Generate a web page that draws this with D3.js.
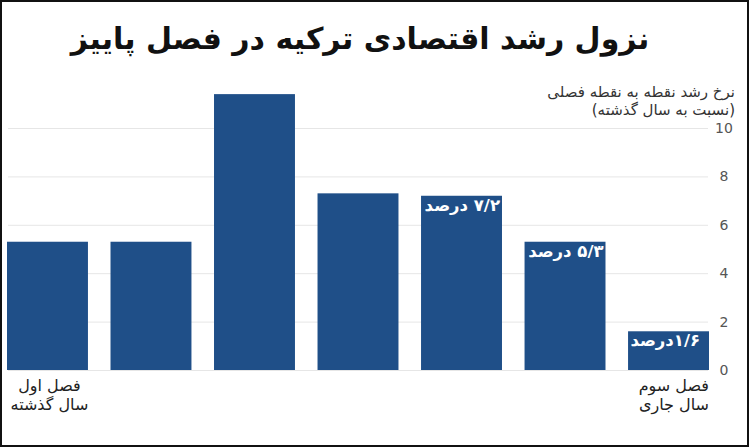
<!DOCTYPE html>
<html><head><meta charset="utf-8">
<script src="https://cdn.jsdelivr.net/npm/d3@7"></script>
<style>
html,body{margin:0;padding:0;background:#fff;}
text{font-family:"DejaVu Sans",sans-serif;}
</style></head>
<body>
<svg id="chart" width="750" height="448"></svg>
<script>
const title = "نزول رشد اقتصادی ترکیه در فصل پاییز";
const axisTitle = ["نرخ رشد نقطه به نقطه فصلی", "(نسبت به سال گذشته)"];
const categories = ["q1", "q2", "q3", "q4", "q5", "q6", "q7"];
const values = [5.3, 5.3, 11.4, 7.3, 7.2, 5.3, 1.6];
const barLabels = ["", "", "", "", "۷/۲ درصد", "۵/۳ درصد", "۱/۶درصد"];
const yTicks = [0, 2, 4, 6, 8, 10];
const firstLabel = ["فصل اول", "سال گذشته"];
const lastLabel = ["فصل سوم", "سال جاری"];

const svg = d3.select("#chart");
const W = 750, H = 448;
const barColor = "#1f4f88";

const x = d3.scaleBand().domain(categories).range([7, 709]).paddingInner(0.218).paddingOuter(0);
const y = d3.scaleLinear().domain([0, 10]).range([370, 128]);

// frame
svg.append("rect").attr("x", 1).attr("y", 1).attr("width", W - 3).attr("height", H - 3)
  .attr("fill", "none").attr("stroke", "#111").attr("stroke-width", 2);

// title
svg.append("text").attr("x", 360).attr("y", 49).attr("text-anchor", "middle")
  .attr("font-size", 30).attr("font-weight", "bold").attr("fill", "#111")
  .attr("direction", "rtl").text(title);

// gridlines
svg.append("g").selectAll("line").data(yTicks).join("line")
  .attr("x1", 8).attr("x2", 708)
  .attr("y1", d => y(d) + 0.5).attr("y2", d => y(d) + 0.5)
  .attr("stroke", "#e6e6e6").attr("stroke-width", 1);

// right axis labels
const yAxis = d3.axisRight(y).tickValues(yTicks).tickSize(0).tickPadding(0).tickFormat(d3.format("d"));
const gy = svg.append("g").attr("transform", "translate(724,0)").call(yAxis);
gy.select(".domain").remove();
gy.selectAll("text").attr("text-anchor", "middle").attr("font-size", 14)
  .attr("fill", "#555").style("font-family", "'DejaVu Sans',sans-serif");

// axis title
svg.append("g").selectAll("text").data(axisTitle).join("text")
  .attr("x", 735).attr("y", (d, i) => 97 + i * 18)
  .attr("text-anchor", "start").attr("direction", "rtl")
  .attr("font-size", 15).attr("fill", "#333").text(d => d);

// bars
svg.append("g").selectAll("rect").data(values).join("rect")
  .attr("x", (d, i) => x(categories[i]))
  .attr("y", d => y(d))
  .attr("width", x.bandwidth())
  .attr("height", d => y(0) - y(d))
  .attr("fill", barColor);

// bar labels
svg.append("g").selectAll("text").data(barLabels).join("text")
  .attr("x", (d, i) => x(categories[i]) + x.bandwidth() - (i === 6 ? 9 : 2))
  .attr("y", (d, i) => y(values[i]) + 15)
  .attr("text-anchor", "start").attr("direction", "rtl")
  .attr("font-size", 16.5).attr("font-weight", "bold").attr("fill", "#fff")
  .text(d => d);

// bottom category labels
svg.append("g").selectAll("text").data(firstLabel).join("text")
  .attr("x", x(categories[0]) + x.bandwidth() / 2 + 2).attr("y", (d, i) => 391 + i * 19)
  .attr("text-anchor", "middle").attr("direction", "rtl")
  .attr("font-size", 16).attr("fill", "#222").text(d => d);

svg.append("g").selectAll("text").data(lastLabel).join("text")
  .attr("x", x(categories[6]) + x.bandwidth()).attr("y", (d, i) => 391 + i * 19)
  .attr("text-anchor", "start").attr("direction", "rtl")
  .attr("font-size", 16).attr("fill", "#222").text(d => d);
</script>
</body></html>
